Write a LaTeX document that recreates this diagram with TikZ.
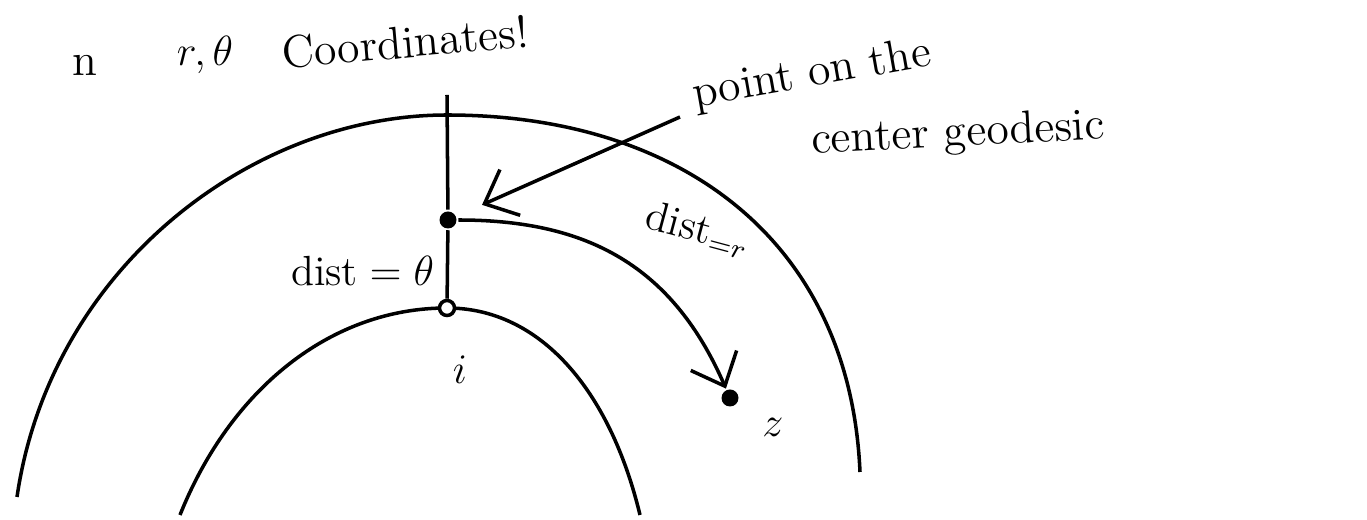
\documentclass[tikz,border=0pt]{standalone}
\usetikzlibrary{arrows.meta}
\begin{document}
\begin{tikzpicture}[line width=1pt, font=\fontsize{13}{15}\selectfont]
    \tikzstyle{dot}=[circle,fill,inner sep=0pt,minimum size=0.17cm]
    \tikzstyle{hole}=[circle,draw,fill=white,inner sep=0pt,minimum size=0.15cm]
    \tikzstyle{barb}=[-{Straight Barb[length=0.28cm,width=0.5cm]}]
    \tikzstyle{lbl}=[font=\fontsize{12}{14}\selectfont]
    \useasboundingbox (0,0) rectangle (13.67,5.20);
    % Heading
    \node (n) at (0.85,4.55) {n};
    \node (rt) at (2.05,4.65) {$r,\theta$};
    \node[rotate=5] (coord) at (4.05,4.78) {Coordinates!};
    \node[rotate=10] (point) at (8.12,4.45) {point on the};
    \node[rotate=3] (center) at (9.58,3.85) {center geodesic};
    % Curves
    \draw (0.17,0.23) .. controls (0.5,2.5) and (2.5,4.05) .. (4.47,4.05)
        .. controls (6.8,4.05) and (8.5,2.8) .. (8.6,0.48);
    \draw (1.8,0.05) .. controls (2.3,1.3) and (3.3,2.12) .. (4.47,2.12)
        .. controls (5.4,2.12) and (6.1,1.3) .. (6.4,0.05);
    % Points
    \coordinate (top) at (4.47,4.25);
    \node[dot] (p) at (4.48,3.0) {};
    \node[hole] (i0) at (4.47,2.12) {};
    \node[dot] (z) at (7.3,1.22) {};
    \node (i) at (4.6,1.5) {$i$};
    \node (zl) at (7.73,0.93) {$z$};
    % Geodesics
    \draw (top) -- (p) -- node[left,pos=0.6,lbl] {dist${}=\theta$} (i0);
    \draw[barb] (p) .. controls (5.8,3.0) and (6.7,2.6) .. (z);
    \node[lbl,rotate=-15] (dr) at (6.98,2.9) {dist$_{=r}$};
    % Pointer
    \coordinate (tail) at (6.8,4.03);
    \draw[barb,shorten >=0.27cm] (tail) -- (p);
\end{tikzpicture}
\end{document}
